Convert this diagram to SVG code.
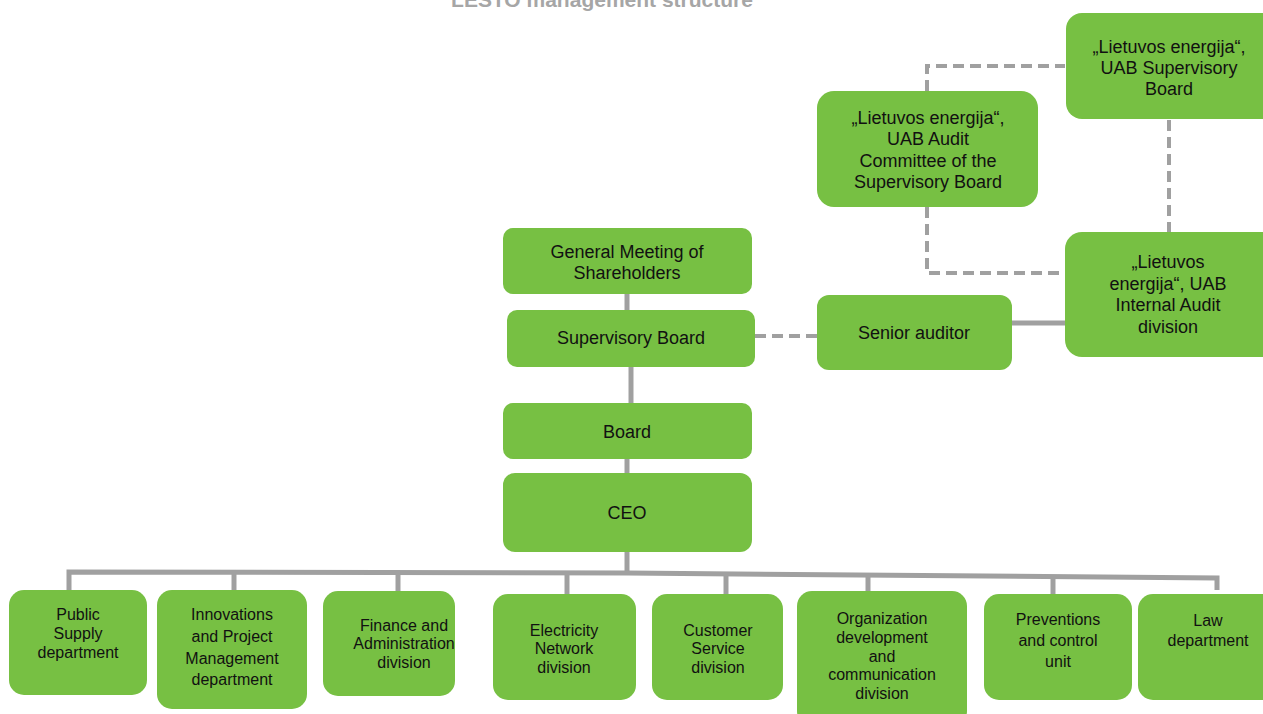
<svg xmlns="http://www.w3.org/2000/svg" width="1263" height="714" viewBox="0 0 1263 714">
<style>
.n{fill:#77C043;}
.t{font-family:"Liberation Sans",Arial,sans-serif;font-size:18px;fill:#111;text-anchor:middle;}
.s{font-family:"Liberation Sans",Arial,sans-serif;font-size:16px;fill:#111;text-anchor:middle;}
.c{fill:none;stroke:#A0A0A0;stroke-width:5;}
.d{fill:none;stroke:#A0A0A0;stroke-width:4;stroke-dasharray:11 6;}
.title{font-family:"Liberation Sans",Arial,sans-serif;font-size:21px;font-weight:bold;fill:#A6A6A6;text-anchor:middle;}
</style>
<rect width="1263" height="714" fill="#fff"/>
<text class="title" x="602" y="7">LESTO management structure</text>
<g id="connectors">
<line class="c" x1="627" y1="294" x2="627" y2="310"/>
<line class="c" x1="631" y1="367" x2="631" y2="403"/>
<line class="c" x1="627" y1="459" x2="627" y2="473"/>
<line class="c" x1="627" y1="552" x2="627" y2="573"/>
<polyline class="c" points="69,590 69,572 627,573 1217,578 1217,590"/>
<line class="c" x1="234" y1="573" x2="234" y2="590"/>
<line class="c" x1="398" y1="573" x2="398" y2="591"/>
<line class="c" x1="567" y1="575" x2="567" y2="594"/>
<line class="c" x1="726" y1="575" x2="726" y2="594"/>
<line class="c" x1="868" y1="576" x2="868" y2="591"/>
<line class="c" x1="1053" y1="577" x2="1053" y2="594"/>
<line class="c" x1="1012" y1="323" x2="1065" y2="323"/>
<line class="d" x1="755" y1="336" x2="817" y2="336"/>
<polyline class="d" points="927,91 927,66 1065,66"/>
<polyline class="d" points="927,207 927,273 1065,273"/>
<line class="d" x1="1169" y1="120" x2="1169" y2="232"/>
</g>
<g id="le-supervisory-board">
<rect class="n" x="1066" y="13" width="215" height="106" rx="16"/>
<text class="t" x="1169" y="53">„Lietuvos energija“,</text>
<text class="t" x="1169" y="74">UAB Supervisory</text>
<text class="t" x="1169" y="95">Board</text>
</g>
<g id="audit-committee">
<rect class="n" x="817" y="91" width="221" height="116" rx="17"/>
<text class="t" x="928" y="124">„Lietuvos energija“,</text>
<text class="t" x="928" y="145">UAB Audit</text>
<text class="t" x="928" y="167">Committee of the</text>
<text class="t" x="928" y="188">Supervisory Board</text>
</g>
<g id="internal-audit">
<rect class="n" x="1065" y="232" width="215" height="125" rx="17"/>
<text class="t" x="1168" y="268">„Lietuvos</text>
<text class="t" x="1168" y="290">energija“, UAB</text>
<text class="t" x="1168" y="311">Internal Audit</text>
<text class="t" x="1168" y="333">division</text>
</g>
<g id="senior-auditor">
<rect class="n" x="817" y="295" width="195" height="75" rx="12"/>
<text class="t" x="914" y="339">Senior auditor</text>
</g>
<g id="general-meeting">
<rect class="n" x="503" y="228" width="249" height="66" rx="10"/>
<text class="t" x="627" y="258">General Meeting of</text>
<text class="t" x="627" y="279">Shareholders</text>
</g>
<g id="supervisory-board">
<rect class="n" x="507" y="310" width="248" height="57" rx="10"/>
<text class="t" x="631" y="344">Supervisory Board</text>
</g>
<g id="board">
<rect class="n" x="503" y="403" width="249" height="56" rx="10"/>
<text class="t" x="627" y="438">Board</text>
</g>
<g id="ceo">
<rect class="n" x="503" y="473" width="249" height="79" rx="12"/>
<text class="t" x="627" y="519">CEO</text>
</g>
<g id="public-supply">
<rect class="n" x="9" y="590" width="138" height="105" rx="15"/>
<text class="s" x="78" y="620">Public</text>
<text class="s" x="78" y="639">Supply</text>
<text class="s" x="78" y="658">department</text>
</g>
<g id="innovations">
<rect class="n" x="157" y="590" width="150" height="119" rx="15"/>
<text class="s" x="232" y="620">Innovations</text>
<text class="s" x="232" y="642">and Project</text>
<text class="s" x="232" y="664">Management</text>
<text class="s" x="232" y="685">department</text>
</g>
<g id="finance">
<rect class="n" x="323" y="591" width="132" height="105" rx="15"/>
<text class="s" x="404" y="631">Finance and</text>
<text class="s" x="404" y="649">Administration</text>
<text class="s" x="404" y="668">division</text>
</g>
<g id="electricity">
<rect class="n" x="493" y="594" width="143" height="106" rx="15"/>
<text class="s" x="564" y="636">Electricity</text>
<text class="s" x="564" y="654">Network</text>
<text class="s" x="564" y="673">division</text>
</g>
<g id="customer">
<rect class="n" x="652" y="594" width="131" height="106" rx="15"/>
<text class="s" x="718" y="636">Customer</text>
<text class="s" x="718" y="654">Service</text>
<text class="s" x="718" y="673">division</text>
</g>
<g id="organization">
<rect class="n" x="797" y="591" width="170" height="135" rx="15"/>
<text class="s" x="882" y="624">Organization</text>
<text class="s" x="882" y="643">development</text>
<text class="s" x="882" y="662">and</text>
<text class="s" x="882" y="680">communication</text>
<text class="s" x="882" y="699">division</text>
</g>
<g id="preventions">
<rect class="n" x="984" y="594" width="148" height="106" rx="15"/>
<text class="s" x="1058" y="625">Preventions</text>
<text class="s" x="1058" y="646">and control</text>
<text class="s" x="1058" y="667">unit</text>
</g>
<g id="law">
<rect class="n" x="1138" y="594" width="140" height="106" rx="15"/>
<text class="s" x="1208" y="626">Law</text>
<text class="s" x="1208" y="646">department</text>
</g>
</svg>
